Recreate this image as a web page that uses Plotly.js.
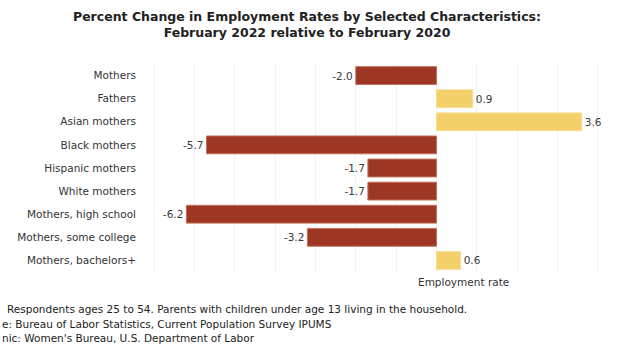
<!DOCTYPE html>
<html>
<head>
<meta charset="utf-8">
<script src="https://cdn.plot.ly/plotly-3.0.1.min.js"></script>
<style>html,body{margin:0;padding:0;background:#fff;overflow:hidden}#chart{width:630px;height:350px}</style>
</head>
<body>
<div id="chart"></div>
<script>
const categories = ["Mothers","Fathers","Asian mothers","Black mothers","Hispanic mothers","White mothers","Mothers, high school","Mothers, some college","Mothers, bachelors+"];
const values = [-2.0, 0.9, 3.6, -5.7, -1.7, -1.7, -6.2, -3.2, 0.6];
const valueLabels = ["-2.0","0.9","3.6","-5.7","-1.7","-1.7","-6.2","-3.2","0.6"];
const titleLines = ["Percent Change in Employment Rates by Selected Characteristics:","February 2022 relative to February 2020"];
const xAxisTitle = "Employment rate";
// footnote lines as they appear in the (left-cropped) reference
const notes = ["Respondents ages 25 to 54. Parents with children under age 13 living in the household.","e: Bureau of Labor Statistics, Current Population Survey IPUMS","nic: Women's Bureau, U.S. Department of Labor"];

const RED = "#9D3623", YELLOW = "#F3D069";
const font = "Tahoma, 'DejaVu Sans', Verdana, sans-serif";

const trace = {
  type: "bar",
  orientation: "h",
  y: categories,
  x: values,
  text: valueLabels,
  textposition: "outside",
  cliponaxis: false,
  textfont: {family: font, size: 10.5, color: "#3a3a3a"},
  marker: {color: values.map(v => v < 0 ? RED : YELLOW), line: {color: values.map(v => v < 0 ? "#C4705E" : "#F7DE96"), width: 1}},
  width: 0.77,
  hoverinfo: "none"
};

const PL = 142, PR = 618, PT = 63.5, PB = 272.5;
const annotations = [
  {text: xAxisTitle, xref: "paper", yref: "paper", x: (463-PL)/(PR-PL), y: -0.05, xanchor: "center", yanchor: "middle", showarrow: false, font: {family: font, size: 10.5, color: "#333"}}
];
const noteX = [5, 0, 0];
const noteY = [310, 325, 339];
notes.forEach((t, i) => annotations.push({
  text: t, xref: "paper", yref: "paper",
  x: (noteX[i]-PL)/(PR-PL), y: (PB - noteY[i])/(PB-PT),
  xanchor: "left", yanchor: "middle", showarrow: false, align: "left",
  font: {family: font, size: 10.5, color: "#222"}
}));

const layout = {
  width: 630, height: 350,
  margin: {l: PL, r: 630-PR, t: PT, b: 350-PB},
  paper_bgcolor: "#fff", plot_bgcolor: "#fff",
  title: {text: "<b>" + titleLines.join("<br>") + "</b>", x: 307/630, xanchor: "center", y: 0.94, yanchor: "top", font: {family: font, size: 12.5, color: "#222"}},
  xaxis: {range: [-7.3, 4.5], dtick: 1, tick0: 0, showticklabels: false, showgrid: true, gridcolor: "#f2f2f2", gridwidth: 1, zeroline: false, showline: false, ticks: ""},
  yaxis: {autorange: "reversed", showgrid: false, zeroline: false, showline: false, ticks: "", ticklabelstandoff: 5, tickfont: {family: font, size: 10.5, color: "#333"}},
  bargap: 0.23,
  showlegend: false,
  annotations: annotations
};

Plotly.newPlot("chart", [trace], layout, {displayModeBar: false, staticPlot: true});
</script>
</body>
</html>
